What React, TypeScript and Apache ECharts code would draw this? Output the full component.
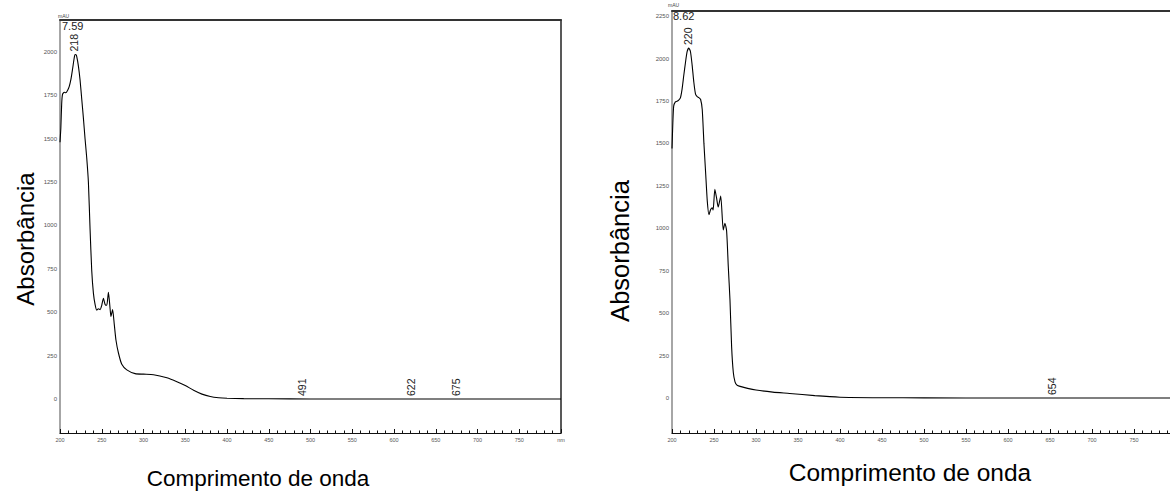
import React, { useEffect, useRef } from "react";
import * as echarts from "echarts";

// Wavelength (nm) / absorbance (mAU) pairs for the two UV spectra
const leftNm = [200, 201, 202, 203, 205, 207, 209, 211, 213, 215, 217, 218, 219, 220, 222, 224, 226, 228, 230, 232, 234, 236, 238, 240, 242, 244, 246, 248, 250, 252, 254, 256, 258, 260, 261, 263, 265, 267, 270, 274, 280, 290, 300, 312, 328, 340, 350, 360, 370, 380, 390, 400, 420, 450, 500, 600, 700, 800];
const leftAbs = [1480, 1560, 1700, 1755, 1768, 1765, 1778, 1800, 1840, 1900, 1965, 1985, 1984, 1975, 1920, 1840, 1730, 1620, 1500, 1390, 1250, 980, 740, 610, 545, 512, 520, 515, 540, 580, 545, 540, 615, 520, 475, 515, 430, 340, 265, 200, 168, 146, 143, 140, 122, 100, 78, 50, 28, 14, 7, 4, 2, 1, 0, 0, 0, 0];

const rightNm = [200, 201, 202, 204, 206, 208, 210, 212, 214, 216, 218, 220, 222, 224, 226, 228, 230, 232, 234, 236, 238, 240, 242, 244, 246, 248, 249, 251, 253, 255, 258, 261, 263, 265, 267, 269, 271, 273, 275, 277, 280, 290, 300, 320, 340, 370, 400, 450, 500, 600, 700, 800];
const rightAbs = [1470, 1620, 1720, 1745, 1748, 1755, 1768, 1820, 1900, 1975, 2040, 2062, 2040, 1960, 1860, 1790, 1775, 1770, 1760, 1700, 1500, 1330, 1160, 1080, 1110, 1120, 1108, 1230, 1180, 1125, 1190, 990, 1030, 985, 775, 580, 300, 150, 95, 77, 70, 57, 47, 35, 27, 14, 5, 2, 1, 0, 0, 0];

// Annotated wavelengths: [nm, mAU at the mark]
const leftMarks = [[218, 1985], [491, 0], [622, 0], [675, 0]];
const rightMarks = [[220, 2062], [654, 0]];

const leftXTicks = [200, 250, 300, 350, 400, 450, 500, 550, 600, 650, 700, 750, 800];
const rightXTicks = [200, 250, 300, 350, 400, 450, 500, 550, 600, 650, 700, 750];
const leftYTicks = [0, 250, 500, 750, 1000, 1250, 1500, 1750, 2000];
const rightYTicks = [0, 250, 500, 750, 1000, 1250, 1500, 1750, 2000, 2250];

const FONT = "'Liberation Sans', Arial, sans-serif";

function zip(xs: number[], ys: number[]) {
  return xs.map((x, i) => [x, ys[i]]);
}

function xAxisBottom(gridIndex: number, ticks: number[]) {
  return {
    type: "value",
    gridIndex,
    min: 200,
    max: 800,
    interval: 50,
    position: "bottom",
    axisLine: { onZero: false, lineStyle: { color: "#111", width: 1 } },
    axisTick: { show: true, inside: true, length: 4, lineStyle: { color: "#111" } },
    minorTick: { show: true, splitNumber: 5, length: 2.5, lineStyle: { color: "#111" } },
    splitLine: { show: false },
    axisLabel: {
      fontSize: 5.5,
      color: "#555",
      fontFamily: FONT,
      margin: 4,
      customValues: ticks,
      formatter: (v: number) => (v === 800 ? "nm" : String(v)),
    },
  };
}

function xAxisTop(gridIndex: number) {
  return {
    type: "value",
    gridIndex,
    min: 200,
    max: 800,
    position: "top",
    axisLine: { show: true, onZero: false, lineStyle: { color: "#333", width: 2 } },
    axisTick: { show: false },
    axisLabel: { show: false },
    splitLine: { show: false },
  };
}

function yAxisLeft(gridIndex: number, min: number, max: number, ticks: number[]) {
  return {
    type: "value",
    gridIndex,
    min,
    max,
    position: "left",
    axisLine: { show: true, onZero: false, lineStyle: { color: "#888", width: 1.5 } },
    axisTick: { show: false },
    splitLine: { show: false },
    axisLabel: {
      fontSize: 6,
      color: "#555",
      fontFamily: FONT,
      margin: 3,
      customValues: ticks,
      formatter: (v: number) => String(v),
    },
  };
}

function markSeries(xAxisIndex: number, yAxisIndex: number, marks: number[][]) {
  return {
    type: "custom",
    xAxisIndex,
    yAxisIndex,
    data: marks,
    silent: true,
    clip: false,
    renderItem: (_params: any, api: any) => {
      const p = api.coord([api.value(0), api.value(1)]);
      return {
        type: "text",
        x: p[0] - 1,
        y: p[1] - 3,
        rotation: Math.PI / 2,
        style: {
          text: String(api.value(0)),
          fontSize: 10.5,
          fontFamily: FONT,
          fill: "#222",
          align: "left",
          verticalAlign: "middle",
        },
      };
    },
  };
}

export default function App() {
  const ref = useRef<HTMLDivElement>(null);

  useEffect(() => {
    if (!ref.current) return;
    const chart = echarts.init(ref.current, undefined, { renderer: "svg" });

    const option = {
      animation: false,
      backgroundColor: "#fff",
      grid: [
        { left: 60, top: 20, width: 501, height: 413 },
        { left: 672, top: 11, width: 504, height: 422 },
      ],
      xAxis: [xAxisBottom(0, leftXTicks), xAxisTop(0), xAxisBottom(1, rightXTicks), xAxisTop(1)],
      yAxis: [
        yAxisLeft(0, -196, 2184, leftYTicks),
        {
          type: "value",
          gridIndex: 0,
          min: -196,
          max: 2184,
          position: "right",
          axisLine: { show: true, onZero: false, lineStyle: { color: "#222", width: 1.5 } },
          axisTick: { show: false },
          axisLabel: { show: false },
          splitLine: { show: false },
        },
        yAxisLeft(1, -206, 2280, rightYTicks),
      ],
      series: [
        {
          type: "line",
          xAxisIndex: 0,
          yAxisIndex: 0,
          data: zip(leftNm, leftAbs),
          showSymbol: false,
          smooth: 0.2,
          lineStyle: { color: "#000", width: 1.1 },
        },
        {
          type: "line",
          xAxisIndex: 2,
          yAxisIndex: 2,
          data: zip(rightNm, rightAbs),
          showSymbol: false,
          smooth: 0.2,
          lineStyle: { color: "#000", width: 1.1 },
        },
        markSeries(0, 0, leftMarks),
        markSeries(2, 2, rightMarks),
      ],
      graphic: [
        { type: "text", x: 58, y: 13, style: { text: "mAU", fontSize: 5, fontFamily: FONT, fill: "#444" } },
        { type: "text", x: 62, y: 20, style: { text: "7.59", fontSize: 11, fontFamily: FONT, fill: "#222" } },
        { type: "text", x: 668, y: 2, style: { text: "mAU", fontSize: 5, fontFamily: FONT, fill: "#444" } },
        { type: "text", x: 673, y: 10, style: { text: "8.62", fontSize: 11, fontFamily: FONT, fill: "#222" } },
        {
          type: "text", x: 25, y: 239, rotation: Math.PI / 2,
          style: { text: "Absorbância", fontSize: 24, fontFamily: FONT, fill: "#000", align: "center", verticalAlign: "middle" },
        },
        {
          type: "text", x: 620, y: 251, rotation: Math.PI / 2,
          style: { text: "Absorbância", fontSize: 25.5, fontFamily: FONT, fill: "#000", align: "center", verticalAlign: "middle" },
        },
        {
          type: "text", x: 258, y: 478,
          style: { text: "Comprimento de onda", fontSize: 22.5, fontFamily: FONT, fill: "#000", align: "center", verticalAlign: "middle" },
        },
        {
          type: "text", x: 910, y: 472,
          style: { text: "Comprimento de onda", fontSize: 24.5, fontFamily: FONT, fill: "#000", align: "center", verticalAlign: "middle" },
        },
      ],
    };

    chart.setOption(option as any);
    return () => chart.dispose();
  }, []);

  return (
    <div style={{ position: "absolute", left: 0, top: 0, width: 1170, height: 493, overflow: "hidden" }}>
      <div ref={ref} style={{ width: 1190, height: 493 }} />
    </div>
  );
}
